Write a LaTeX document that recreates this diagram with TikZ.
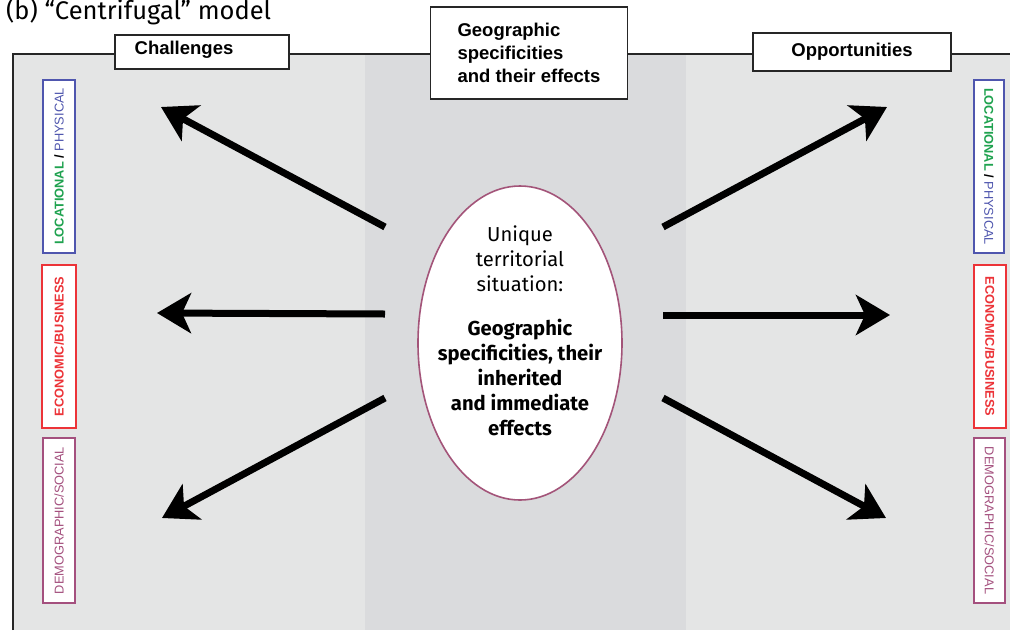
\documentclass[tikz,border=0pt]{standalone}
\usepackage{fontspec}
\setmainfont{Liberation Sans}
\newfontfamily\myriad{Fira Sans}
\usetikzlibrary{arrows.meta,shapes.geometric}
\definecolor{panel}{HTML}{E4E5E5}
\definecolor{band}{HTML}{DADBDD}
\definecolor{locgreen}{HTML}{1FA24F}
\definecolor{physblue}{HTML}{4F56AE}
\definecolor{econred}{HTML}{EC3338}
\definecolor{demopurple}{HTML}{A4507E}
\definecolor{ovalrim}{HTML}{A35479}
\begin{document}
\begin{tikzpicture}[x=1pt,y=-1pt,
  headbox/.style={draw=black!85, line width=1.3pt, fill=white, inner sep=0pt,
    font=\bfseries\fontsize{18.5}{23}\selectfont},
  tagbox/.style={line width=1.2pt, fill=white, inner sep=0pt,
    minimum height=32pt, font=\fontsize{12.8}{13}\selectfont},
  push/.style={line width=7pt, -{Stealth[length=34pt,width=40pt,inset=9pt]}}]
\useasboundingbox (0,0) rectangle (1010,630);
% panel and central band
\fill[panel] (13,54) rectangle (1010,630);
\fill[band] (365,54) rectangle (686,630);
\draw[line width=2.5pt, black!85] (13,630) -- (13,54);
\draw[line width=1.6pt, black!85] (12,54) -- (1010,54);

% title
\node[anchor=base west, inner sep=0pt, font=\myriad\fontsize{25.5}{28}\selectfont]
  (title) at (6,19) {(b) “Centrifugal” model};

% header boxes
\node[headbox, minimum width=174pt, minimum height=34pt] (chal) at (202,52) {};
\node[inner sep=0pt, font=\bfseries\fontsize{18.5}{23}\selectfont] (chaltext) at (184,50) {Challenges};
\node[headbox, minimum width=197pt, minimum height=92pt, align=left] (geo) at (529,53)
  {Geographic\\specificities\\and their effects};
\node[headbox, minimum width=198pt, minimum height=38pt] (opp) at (852,52) {Opportunities};

% category tags, left side
\node[tagbox, draw=physblue, rotate=90, minimum width=173pt] (locL) at (59,166.5)
  {{\bfseries\color{locgreen}LOCATIONAL} {\bfseries /} {\color{physblue}PHYSICAL}};
\node[tagbox, draw=econred, rotate=90, minimum width=163pt, minimum height=34pt] (ecoL) at (59,346.5)
  {\bfseries\color{econred}ECONOMIC/BUSINESS};
\node[tagbox, draw=demopurple, rotate=90, minimum width=165pt] (demL) at (59,520.5)
  {\color{demopurple}DEMOGRAPHIC/SOCIAL};

% category tags, right side
\node[tagbox, draw=physblue, rotate=-90, minimum width=173pt, minimum height=30pt] (locR) at (989,166.5)
  {{\bfseries\color{locgreen}LOCATIONAL} {\bfseries /} {\color{physblue}PHYSICAL}};
\node[tagbox, draw=econred, rotate=-90, minimum width=163pt] (ecoR) at (990,346.5)
  {\bfseries\color{econred}ECONOMIC/BUSINESS};
\node[tagbox, draw=demopurple, rotate=-90, minimum width=165pt, minimum height=31pt] (demR) at (989.5,520.5)
  {\color{demopurple}DEMOGRAPHIC/SOCIAL};

% central oval
\node[ellipse, draw=ovalrim, line width=1.6pt, fill=white,
  minimum width=204pt, minimum height=314pt] (situation) at (520,343) {};
\node[align=center, inner sep=0pt, font=\myriad\fontsize{20.2}{25}\selectfont]
  (situationtext) at (520,331)
  {Unique\\territorial\\situation:\\[19pt]
   \bfseries Geographic\\\bfseries specificities, their\\\bfseries inherited\\
   \bfseries and immediate\\\bfseries effects};

% arrow ends
\coordinate (tUL) at (385,227);  \coordinate (hUL) at (161,107);
\coordinate (tML) at (385,314);  \coordinate (hML) at (157,313);
\coordinate (tLL) at (385,398);  \coordinate (hLL) at (162,518);
\coordinate (tUR) at (663,227);  \coordinate (hUR) at (887,107);
\coordinate (tMR) at (663,315);  \coordinate (hMR) at (890,315);
\coordinate (tLR) at (663,398);  \coordinate (hLR) at (886,518);

% outward arrows
\draw[push] (tUL) -- (hUL);
\draw[push] (tML) -- (hML);
\draw[push] (tLL) -- (hLL);
\draw[push] (tUR) -- (hUR);
\draw[push] (tMR) -- (hMR);
\draw[push] (tLR) -- (hLR);
\end{tikzpicture}
\end{document}
